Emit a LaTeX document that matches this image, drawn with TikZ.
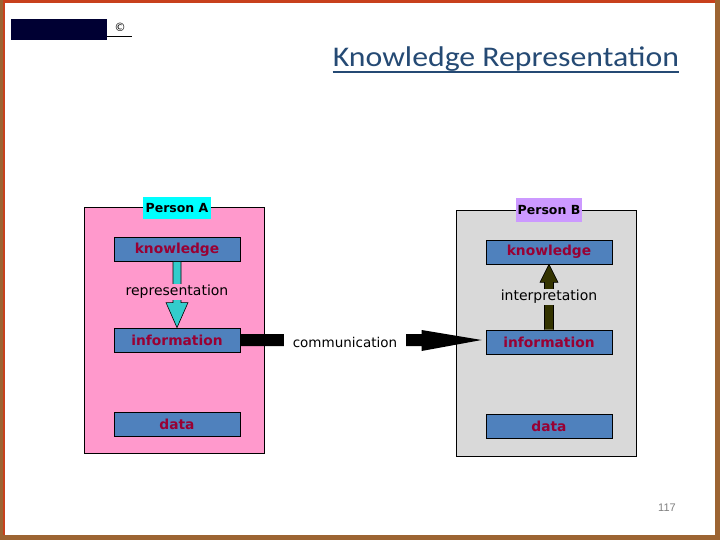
\documentclass[tikz,border=0pt]{standalone}
\usepackage{fontspec}
\setmainfont{DejaVu Sans}
\newfontfamily\carlito{Carlito}
\newfontfamily\libsans{Liberation Sans}
\usetikzlibrary{calc}
\definecolor{pinkA}{HTML}{FF99CC}
\definecolor{grayB}{HTML}{D9D9D9}
\definecolor{boxblue}{HTML}{4F81BD}
\definecolor{boxtext}{HTML}{990033}
\definecolor{cyanlab}{HTML}{00FFFF}
\definecolor{lavlab}{HTML}{CC99FF}
\definecolor{arrcyan}{HTML}{33CCCC}
\definecolor{arrolive}{HTML}{333300}
\definecolor{titleblue}{HTML}{254A74}
\definecolor{framebrown}{HTML}{9C6432}
\definecolor{framered}{HTML}{C8401C}
\definecolor{logonavy}{HTML}{000033}
\definecolor{pagegray}{HTML}{808080}
\begin{document}
\begin{tikzpicture}[x=1pt,y=-1pt,
  personbox/.style={draw=black, line width=0.8pt, inner sep=0pt, anchor=north west},
  itembox/.style={draw=black, line width=0.8pt, fill=boxblue, text=boxtext,
    minimum width=126pt, minimum height=24pt, inner sep=0pt,
    font=\bfseries\fontsize{13.8}{16}\selectfont},
  personlabel/.style={inner xsep=3pt, inner ysep=0pt, minimum height=22pt,
    font=\bfseries\fontsize{12.5}{14}\selectfont},
  steplabel/.style={inner xsep=1pt, inner ysep=1pt, font=\fontsize{14}{16}\selectfont},
  arrowpoly/.style={draw=black, line width=0.6pt, line join=miter}
]
\useasboundingbox (0,0) rectangle (720,540);
% frame
\fill[framebrown] (0,0) rectangle (720,540);
\fill[white] (4.5,3.5) rectangle (715,534.5);
\fill[framered] (3,0) rectangle (715,3.5);
\fill[framered] (3,0) rectangle (4.5,534.5);

% logo and copyright
\node[fill=logonavy, minimum width=96pt, minimum height=21pt, inner sep=0pt, anchor=north west] (logo) at (11,19) {};
\node[font=\fontsize{11.5}{13}\selectfont, anchor=base, inner sep=0pt] (copy) at (120,32) {©};
\draw[line width=1.3pt] ($(logo.south east)+(0,-4)$) -- ++(25,0);

% title
\node[text=titleblue, font=\carlito\fontsize{28.5}{32}\selectfont, anchor=base, inner sep=0pt] (title) at (506,67) {\scalebox{1.115}[1]{Knowledge Representation}};
\draw[titleblue, line width=1.6pt] ($(title.base west)+(0,5)$) -- ($(title.base east)+(0,5)$);

% person boxes
\node[personbox, fill=pinkA, minimum width=180pt, minimum height=246pt] (pA) at (84,207) {};
\node[personbox, fill=grayB, minimum width=180pt, minimum height=246pt] (pB) at (456,210) {};

% items A
\node[itembox] (kA) at (177,249.5) {knowledge};
\node[itembox] (iA) at (177,340) {information};
\node[itembox] (dA) at (177,424) {data};
% items B
\node[itembox] (kB) at (549,252) {knowledge};
\node[itembox] (iB) at (549,342) {information};
\node[itembox] (dB) at (549,426) {data};

% arrow A (representation)
\draw[arrowpoly, fill=arrcyan] ($(kA.south)+(-4,0)$) -- ($(iA.north)+(-4,-25)$) -- ($(iA.north)+(-11,-25)$) -- (iA.north) -- ($(iA.north)+(11,-25)$) -- ($(iA.north)+(4,-25)$) -- ($(kA.south)+(4,0)$);
\node[steplabel, fill=pinkA] (rep) at (177,292) {representation};

% arrow B (interpretation)
\draw[arrowpoly, fill=arrolive] ($(iB.north)+(-4.5,0)$) -- ($(kB.south)+(-4.5,18)$) -- ($(kB.south)+(-9,18)$) -- (kB.south) -- ($(kB.south)+(9,18)$) -- ($(kB.south)+(4.5,18)$) -- ($(iB.north)+(4.5,0)$);
\node[steplabel, fill=grayB] (interp) at (549,297) {interpretation};

% communication arrow
\coordinate (tip) at ($(iB.west |- iA.east)+(-4,0)$);
\fill[black] ($(iA.east)+(0,-6)$) -- ($(tip)+(-60,-6)$) -- ($(tip)+(-60,-10)$) -- (tip) -- ($(tip)+(-60,11)$) -- ($(tip)+(-60,6)$) -- ($(iA.east)+(0,6)$) -- cycle;
\node[fill=white, inner xsep=9pt, inner ysep=4pt, font=\fontsize{13.5}{16}\selectfont] (comm) at (345,342) {communication};

% person labels
\node[personlabel, fill=cyanlab] (lA) at (177,208) {Person A};
\node[personlabel, fill=lavlab, inner xsep=2pt, minimum height=24pt] (lB) at (549,210) {Person B};

% page number
\node[text=pagegray, font=\libsans\fontsize{11}{13}\selectfont] (pn) at (667,508) {117};
\end{tikzpicture}
\end{document}
